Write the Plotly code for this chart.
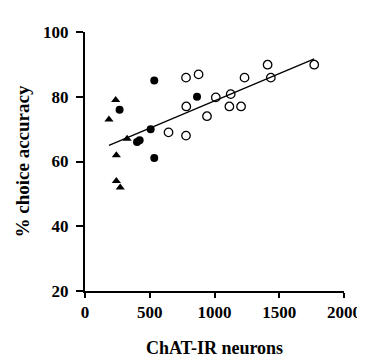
import plotly.graph_objects as go

# Open circles
open_x = [780, 877, 782, 645, 780, 942, 1010, 1125, 1115, 1205, 1232, 1410, 1435, 1770]
open_y = [85.9, 86.9, 77, 69, 68, 74, 79.8, 80.8, 77, 77, 85.9, 89.9, 85.9, 89.9]
# Filled circles
fill_x = [535, 267, 865, 507, 402, 422, 535]
fill_y = [85, 76, 80, 70, 66, 66.6, 61.1]
# Filled triangles
tri_x = [237, 185, 325, 242, 242, 272]
tri_y = [79, 73, 67, 61.9, 54, 52]
# Regression line endpoints
fit_x = [185, 1770]
fit_y = [65, 91.7]

x_ticks = [0, 500, 1000, 1500, 2000]
y_ticks = [20, 40, 60, 80, 100]

fig = go.Figure()
fig.add_trace(go.Scatter(x=fit_x, y=fit_y, mode="lines",
                         line=dict(color="black", width=1.3), showlegend=False))
fig.add_trace(go.Scatter(x=open_x, y=open_y, mode="markers",
                         marker=dict(symbol="circle-open", size=8.5, color="black",
                                     line=dict(width=1.3, color="black")),
                         showlegend=False))
fig.add_trace(go.Scatter(x=fill_x, y=fill_y, mode="markers",
                         marker=dict(symbol="circle", size=8, color="black"),
                         showlegend=False))
fig.add_trace(go.Scatter(x=tri_x, y=tri_y, mode="markers",
                         marker=dict(symbol="triangle-up", size=8, color="black"),
                         showlegend=False))

font_tick = dict(family="Liberation Serif", size=17, color="black")
font_title = dict(family="Liberation Serif", size=18, color="black")

fig.update_layout(
    width=365, height=359,
    margin=dict(l=77, r=22, t=24, b=66),
    paper_bgcolor="white", plot_bgcolor="white",
    font=dict(family="Liberation Serif", color="black"),
    xaxis=dict(range=[0, 2000], tickvals=x_ticks, ticktext=["<b>%d</b>" % v for v in x_ticks],
               showgrid=False, zeroline=False, showline=True, linecolor="black", linewidth=2,
               ticks="outside", ticklen=5, tickwidth=2, tickcolor="black", tickfont=font_tick,
               title=dict(text="<b>ChAT-IR neurons</b>", font=font_title, standoff=20)),
    yaxis=dict(range=[20, 100], tickvals=y_ticks, ticktext=["<b>%d</b>" % v for v in y_ticks],
               showgrid=False, zeroline=False, showline=True, linecolor="black", linewidth=2,
               ticks="outside", ticklen=7, tickwidth=2, tickcolor="black", tickfont=font_tick,
               ticklabelstandoff=4,
               title=dict(text="<b>% choice accuracy</b>",
                          font=dict(family="Liberation Serif", size=19, color="black"),
                          standoff=8)),
)

fig.write_html("out.html")
